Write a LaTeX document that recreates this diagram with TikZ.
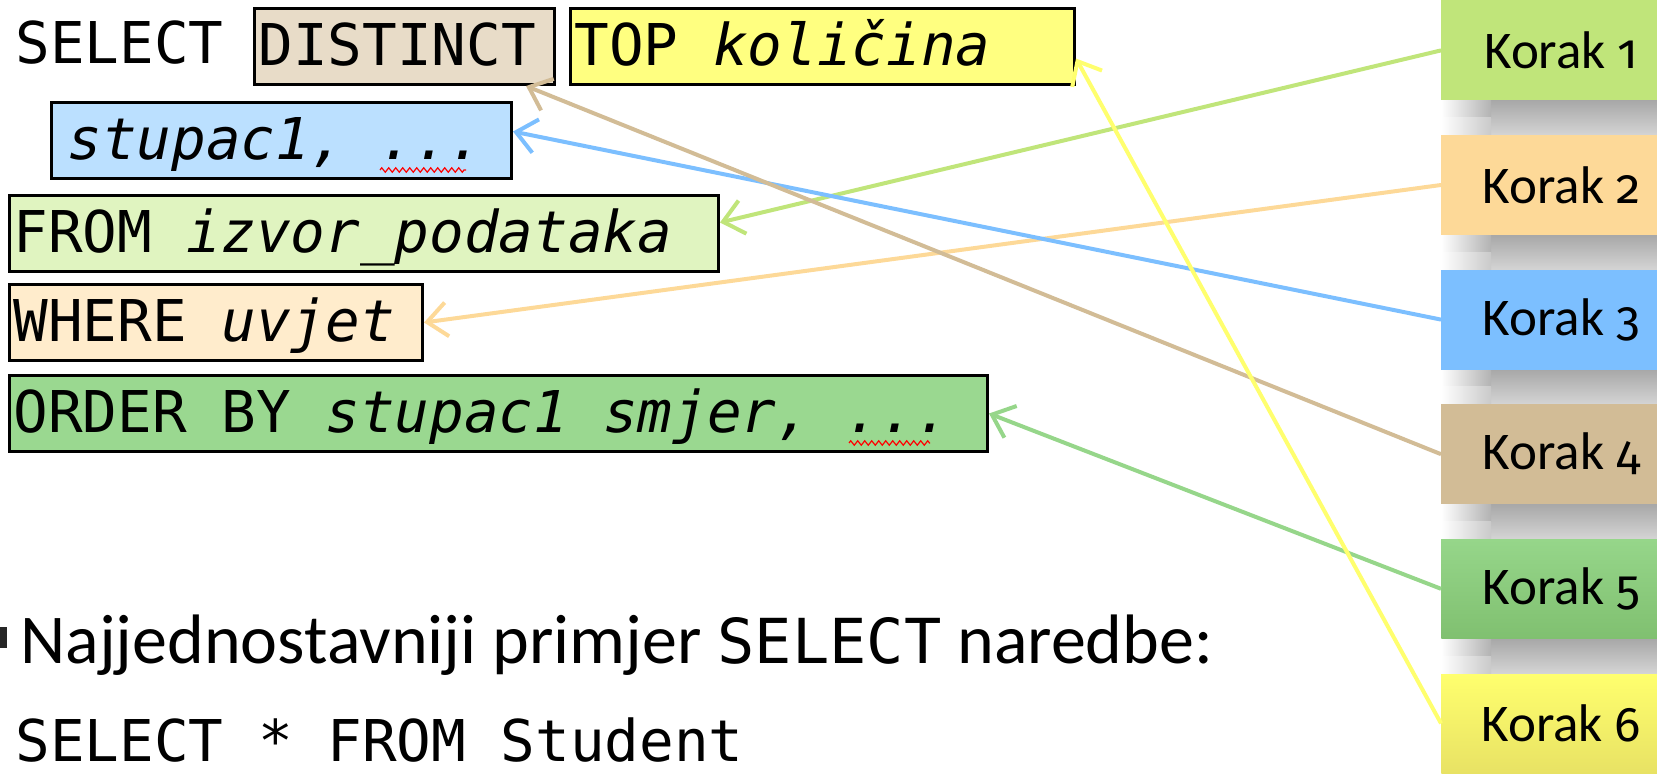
\documentclass[tikz,border=0pt]{standalone}
\usepackage{fontspec}
\setmainfont{Carlito}
\setmonofont{DejaVu Sans Mono}[ItalicFont={DejaVu Sans Mono Oblique}]
\newfontfamily\brojfont{Fira Sans}[Numbers=OldStyle, Scale=0.92]
\usepackage{tikz}
\usetikzlibrary{arrows.meta,decorations.pathmorphing,calc}

\definecolor{bojadistinct}{RGB}{232,220,200}
\definecolor{bojatop}{RGB}{255,255,128}
\definecolor{bojastupac}{RGB}{187,224,255}
\definecolor{bojafrom}{RGB}{224,244,192}
\definecolor{bojawhere}{RGB}{255,236,204}
\definecolor{bojaorder}{RGB}{154,216,144}
\definecolor{zelena}{RGB}{192,229,122}
\definecolor{narancasta}{RGB}{253,217,152}
\definecolor{plava}{RGB}{124,191,255}
\definecolor{smeda}{RGB}{210,188,150}
\definecolor{tamnozelena}{RGB}{150,214,138}
\definecolor{tamnozelenadno}{RGB}{128,192,112}
\definecolor{zuta}{RGB}{255,255,110}
\definecolor{zutadno}{RGB}{232,226,100}

\newcommand{\kodfont}{\ttfamily\fontsize{28.8pt}{34pt}\selectfont}
\newcommand{\korakfont}{\fontsize{26.5pt}{32pt}\selectfont}
\newcommand{\opisfont}{\fontsize{35pt}{40pt}\selectfont}

\begin{document}
\begin{tikzpicture}[x=0.5pt, y=-0.5pt,
	kod/.style={draw, line width=1.5pt, anchor=north west, inner xsep=2pt, inner ysep=0pt, text height=28.5pt, text depth=9.5pt, align=flush left, font=\kodfont},
	korak/.style={anchor=north west, minimum width=120pt, minimum height=50pt, inner sep=0pt, font=\korakfont},
	sjena/.style={top color=black!34, bottom color=black!17},
	veza/.style={line width=2pt, -{Straight Barb[length=10pt,width=17pt]}},
	vijuga/.style={red, line width=0.6pt, decorate, decoration={zigzag, segment length=3.5pt, amplitude=1.1pt}}]
	% Pixel coordinates of the slide, y grows downwards.
	\clip (0, 0) rectangle (1657, 775);
	\node (select) [anchor=base west, inner sep=0pt, font=\kodfont] at (15, 64) {SELECT};
	\node (distinct) [kod, fill=bojadistinct, text width=146pt] at (253, 7) {DISTINCT};
	\node (topkol) [kod, fill=bojatop, text width=248pt] at (569, 7) {TOP \textit{količina}};
	\node (stupac) [kod, fill=bojastupac, inner xsep=8pt, text width=214pt] at (50, 101) {\textit{stupac1, ...}};
	\node (from) [kod, fill=bojafrom, text width=350.5pt] at (8, 194) {FROM \textit{izvor\_podataka}};
	\node (where) [kod, fill=bojawhere, text width=202.5pt] at (8, 283) {WHERE \textit{uvjet}};
	\node (order) [kod, fill=bojaorder, text width=485pt] at (8, 374) {ORDER BY \textit{stupac1 smjer, ...}};
	\draw[vijuga] (380, 170) -- (466, 170);
	\draw[vijuga] (849, 443) -- (930, 443);
	\node (oznaka) [fill=black!85, minimum size=10.5pt, inner sep=0pt] at (-4, 637) {};
	\node (opis) [anchor=base west, inner sep=0pt, font=\opisfont] at (20, 663) {Najjednostavniji primjer {\ttfamily\fontsize{31pt}{36pt}\selectfont SELECT} naredbe:};
	\node (primjer) [anchor=base west, inner sep=0pt, font=\kodfont] at (15, 761) {SELECT * FROM Student};
	\node (korak1) [korak, fill=zelena] at (1441, 0) {Korak {\brojfont 1}};
	\node (korak2) [korak, fill=narancasta] at (1441, 134.6) {Korak {\brojfont 2}};
	\node (korak3) [korak, fill=plava] at (1441, 269.2) {Korak {\brojfont 3}};
	\node (korak4) [korak, fill=smeda] at (1441, 403.8) {Korak {\brojfont 4}};
	\node (korak5) [korak, top color=tamnozelena, bottom color=tamnozelenadno] at (1441, 538.4) {Korak {\brojfont 5}};
	\node (korak6) [korak, top color=zuta, bottom color=zutadno] at (1441, 673) {Korak {\brojfont 6}};
	% shadows under the steps, faded in from the left
	\foreach \k/\m in {1/2, 2/3, 3/4, 4/5, 5/6} {
		\coordinate (sredina) at ($(korak\k.south west)!0.5!(korak\m.north west)$);
		\shade[sjena] ([xshift=25pt]korak\k.south west) rectangle (korak\m.north east);
		\shade[left color=white, right color=black!30] (korak\k.south west) rectangle ([xshift=25pt]sredina);
		\shade[left color=white, right color=black!21] (sredina) rectangle ([xshift=25pt]korak\m.north west);
	}
	\draw[veza, zelena] (korak1.west) -- ([yshift=5.5pt]from.east);
	\draw[veza, narancasta] (korak2.west) -- (where.east);
	\draw[veza, plava] (korak3.west) -- ([yshift=4.5pt]stupac.east);
	\draw[veza, smeda] (korak4.west) -- ([xshift=-15pt]distinct.south east);
	\draw[veza, tamnozelena] (korak5.west) -- (order.east);
	\draw[veza, zuta] (korak6.west) -- ([yshift=-6pt]topkol.east);
\end{tikzpicture}
\end{document}
